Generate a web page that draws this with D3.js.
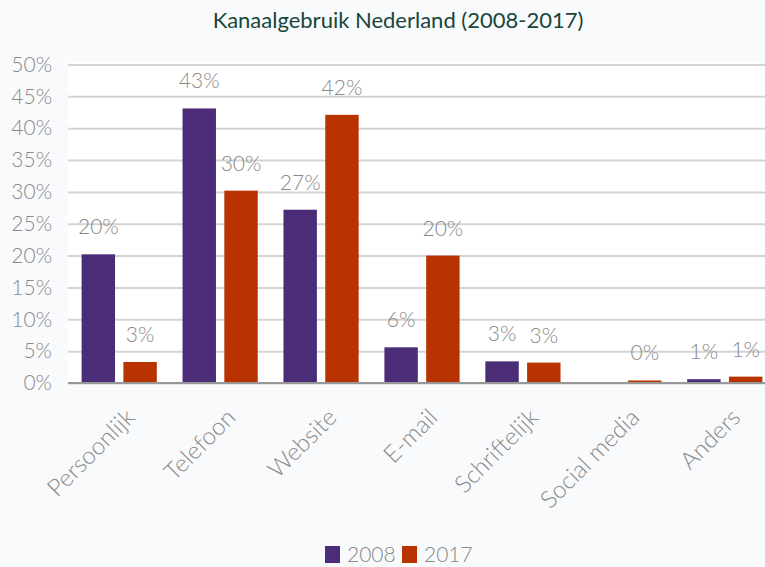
<!doctype html>
<html lang="nl">
<head>
  <meta charset="UTF-8">
  <title>Kanaalgebruik Nederland</title>
  <style>
    html, body { margin: 0; padding: 0; background: #f9fafc; }
    #app { position: relative; width: 765px; height: 567px; }
    text { font-family: Lato, "Open Sans", sans-serif; }
  </style>
</head>
<body>
<div id="app"></div>
<script src="https://cdn.jsdelivr.net/npm/d3@7/dist/d3.min.js"></script>
<script>
  var categories = ['Persoonlijk', 'Telefoon', 'Website', 'E-mail', 'Schriftelijk', 'Social media', 'Anders'];
  var series = ['2008', '2017'];
  var values2008 = [20.2, 43.1, 27.2, 5.6, 3.4, null, 0.6];
  var values2017 = [3.3, 30.2, 42.1, 20.0, 3.2, 0.4, 1.0];
  var yTicks = [0, 5, 10, 15, 20, 25, 30, 35, 40, 45, 50];
  var colors = ['#4b2c77', '#b83300'];

  var width = 765;
  var height = 567;
  var plot = {left: 68, right: 765, top: 64.5, bottom: 383};

  var svg = d3.select('#app')
              .append('svg')
              .attr('width', width)
              .attr('height', height);

  // white plot area
  svg.append('rect')
    .attr('x', plot.left)
    .attr('y', plot.top - 2)
    .attr('width', plot.right - plot.left)
    .attr('height', plot.bottom - plot.top + 2)
    .attr('fill', '#fff');

  // category band runs a bit past the right edge, like the original
  var x0 = d3.scaleBand()
    .domain(categories)
    .range([69, 775])
    .paddingInner(0.255)
    .paddingOuter(0.125);

  var x1 = d3.scaleBand()
    .domain(series)
    .range([0, x0.bandwidth()])
    .paddingInner(0.2);

  var y = d3.scaleLinear()
    .domain([0, 50])
    .range([plot.bottom, plot.top]);

  // grid
  var yAxis = d3.axisLeft(y)
    .tickValues(yTicks)
    .tickSize(-(plot.right - plot.left))
    .tickPadding(16)
    .tickFormat(d => d + '%');

  var gy = svg.append('g')
    .attr('transform', 'translate(' + plot.left + ',0)')
    .call(yAxis);
  gy.select('.domain').remove();
  gy.selectAll('.tick line')
    .attr('stroke', '#d4d4d4')
    .attr('stroke-width', 2);
  gy.selectAll('.tick text')
    .attr('fill', '#898989')
    .attr('font-size', 21)
    .attr('font-weight', 300);

  // bars
  var rows = categories.map((c, i) => ({
    cat: c,
    vals: [
      {key: '2008', v: values2008[i]},
      {key: '2017', v: values2017[i]}
    ]
  }));

  var groups = svg.selectAll('g.group')
    .data(rows)
    .enter()
    .append('g')
    .attr('class', 'group')
    .attr('transform', d => 'translate(' + x0(d.cat) + ',0)');

  groups.selectAll('rect')
    .data(d => d.vals.filter(e => e.v !== null))
    .enter()
    .append('rect')
    .attr('x', d => x1(d.key))
    .attr('y', d => y(d.v))
    .attr('width', x1.bandwidth())
    .attr('height', d => y(0) - y(d.v))
    .attr('fill', d => colors[series.indexOf(d.key)]);

  groups.selectAll('text.label')
    .data(d => d.vals.filter(e => e.v !== null))
    .enter()
    .append('text')
    .attr('class', 'label')
    .attr('x', d => x1(d.key) + x1.bandwidth() / 2)
    .attr('y', d => y(d.v) - 20)
    .attr('text-anchor', 'middle')
    .attr('fill', '#898989')
    .attr('font-size', 21)
    .attr('font-weight', 300)
    .text(d => Math.round(d.v) + '%');

  // baseline
  svg.append('line')
    .attr('x1', plot.left)
    .attr('x2', plot.right)
    .attr('y1', y(0))
    .attr('y2', y(0))
    .attr('stroke', '#979797')
    .attr('stroke-width', 2);

  // category labels
  svg.selectAll('text.cat')
    .data(categories)
    .enter()
    .append('text')
    .attr('class', 'cat')
    .attr('text-anchor', 'end')
    .attr('fill', '#898989')
    .attr('font-size', 24)
    .attr('font-weight', 300)
    .attr('transform', d => 'translate(' + (x0(d) + x0.bandwidth() / 2 + 17) + ',' + 419 + ') rotate(-45)')
    .text(d => d);

  // title
  svg.append('text')
    .attr('x', 398)
    .attr('y', 28)
    .attr('text-anchor', 'middle')
    .attr('fill', '#17463a')
    .attr('font-size', 22)
    .text('Kanaalgebruik Nederland (2008-2017)');

  // legend
  var legend = svg.append('g').attr('transform', 'translate(325,546)');
  var items = legend.selectAll('g')
    .data(series)
    .enter()
    .append('g')
    .attr('transform', (d, i) => 'translate(' + (i * 77) + ',0)');
  items.append('rect')
    .attr('width', 15)
    .attr('height', 17)
    .attr('fill', (d, i) => colors[i]);
  items.append('text')
    .attr('x', 22)
    .attr('y', 16)
    .attr('fill', '#898989')
    .attr('font-size', 21)
    .attr('font-weight', 300)
    .text(d => d);
</script>
</body>
</html>
